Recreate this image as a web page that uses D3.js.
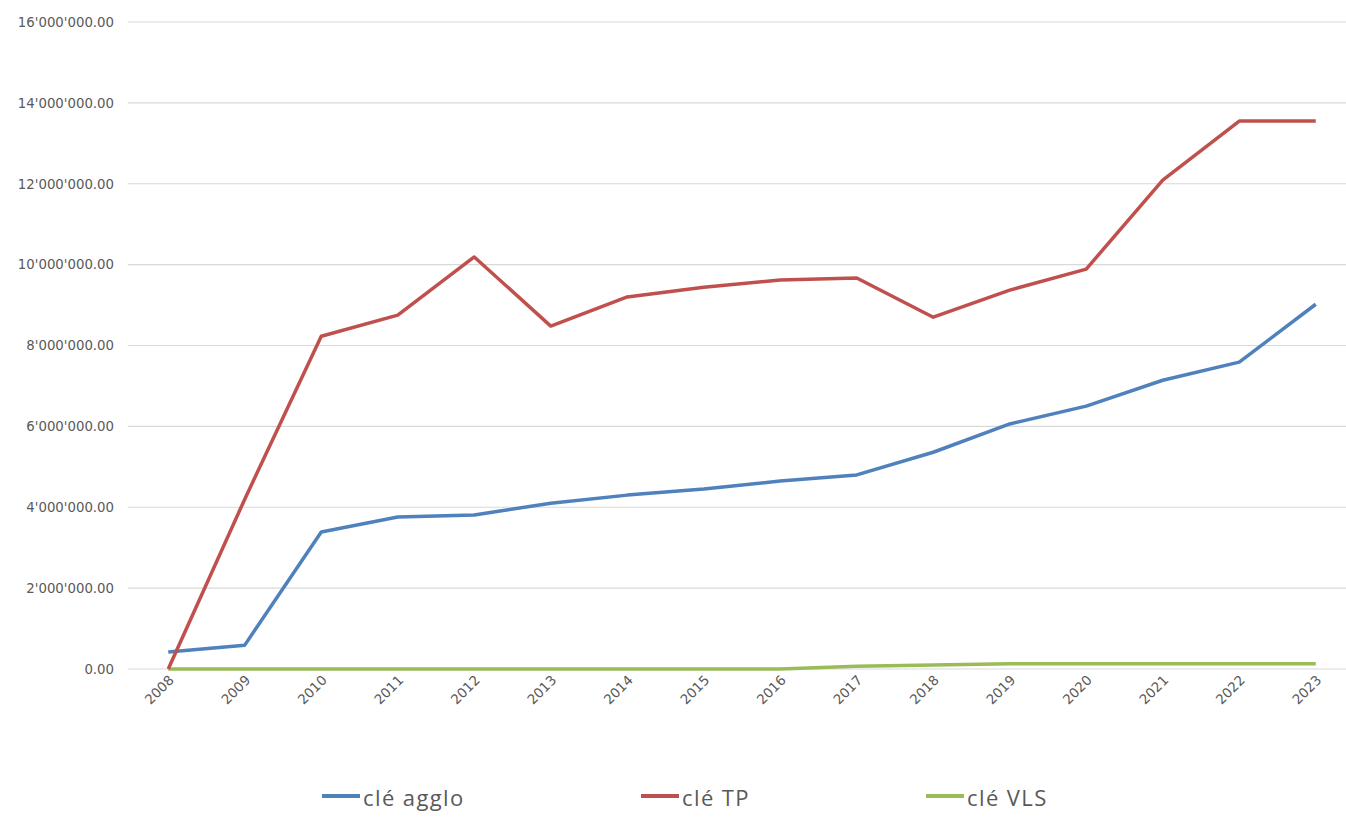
<!DOCTYPE html>
<html><head><meta charset="utf-8">
<script src="https://cdn.jsdelivr.net/npm/d3@7"></script>
<style>body{margin:0;background:#fff;}svg{display:block;}</style>
</head><body>
<svg id="c" width="1346" height="830"></svg>
<script>
const years = ["2008","2009","2010","2011","2012","2013","2014","2015","2016","2017","2018","2019","2020","2021","2022","2023"];
const cleAgglo = [420000,590000,3390000,3760000,3810000,4100000,4300000,4450000,4650000,4800000,5360000,6060000,6500000,7140000,7590000,9020000];
const cleTP = [0,4200000,8230000,8750000,10190000,8480000,9200000,9440000,9620000,9670000,8700000,9370000,9890000,12090000,13550000,13550000];
const cleVLS = [0,0,0,0,0,0,0,0,0,70000,100000,130000,130000,130000,130000,130000];
const yTicks = [0,2000000,4000000,6000000,8000000,10000000,12000000,14000000,16000000];
const seriesNames = ["clé agglo","clé TP","clé VLS"];
const colors = ["#4F81BD","#C0504D","#9BBB59"];

(function(){
const series = [cleAgglo, cleTP, cleVLS];
const svg = d3.select("#c");
const pl = 130, pr = 1354, pt = 22, pb = 669;
const x = d3.scalePoint().domain(years).range([pl, pr]).padding(0.5);
const y = d3.scaleLinear().domain([0,16000000]).range([pb, pt]);
const loc = d3.formatLocale({decimal:".", thousands:"'", grouping:[3], currency:["",""]});
const fmt = loc.format(",.2f");

svg.append("g").selectAll("line").data(yTicks).join("line")
  .attr("x1", pl-2).attr("x2", 1346)
  .attr("y1", d=>y(d)).attr("y2", d=>y(d))
  .attr("stroke", "#d9d9d9").attr("stroke-width", 1.2);

const ya = svg.append("g").attr("transform", `translate(${114},0)`)
  .call(d3.axisLeft(y).tickValues(yTicks).tickFormat(fmt).tickSize(0).tickPadding(0));
ya.select(".domain").remove();
ya.selectAll("text").attr("font-family","'DejaVu Sans', sans-serif").attr("font-size",13.3).attr("fill","#595959");

const xa = svg.append("g").attr("transform", `translate(0,${pb})`)
  .call(d3.axisBottom(x).tickSize(0).tickPadding(0));
xa.select(".domain").remove();
xa.selectAll("text")
  .attr("font-family","'DejaVu Sans', sans-serif").attr("font-size",13.5).attr("fill","#595959")
  .attr("text-anchor","end").attr("dy",null)
  .attr("transform","translate(6,12) rotate(-45)");

const line = d3.line().x((d,i)=>x(years[i])).y(d=>y(d));
[2,0,1].forEach(k=>{
  svg.append("path").datum(series[k]).attr("d", line)
    .attr("fill","none").attr("stroke", colors[k]).attr("stroke-width",3.5)
    .attr("stroke-linejoin","round");
});

const legX = [322, 641, 926];
const lg = svg.append("g");
seriesNames.forEach((n,i)=>{
  lg.append("line").attr("x1",legX[i]).attr("x2",legX[i]+38).attr("y1",796).attr("y2",796)
    .attr("stroke",colors[i]).attr("stroke-width",4);
  lg.append("text").attr("x",legX[i]+41).attr("y",806).text(n)
    .attr("font-family","'Open Sans',Arial,sans-serif").attr("font-size",22)
    .attr("letter-spacing",1.4).attr("fill","#595959");
});
})();
</script>
</body></html>
